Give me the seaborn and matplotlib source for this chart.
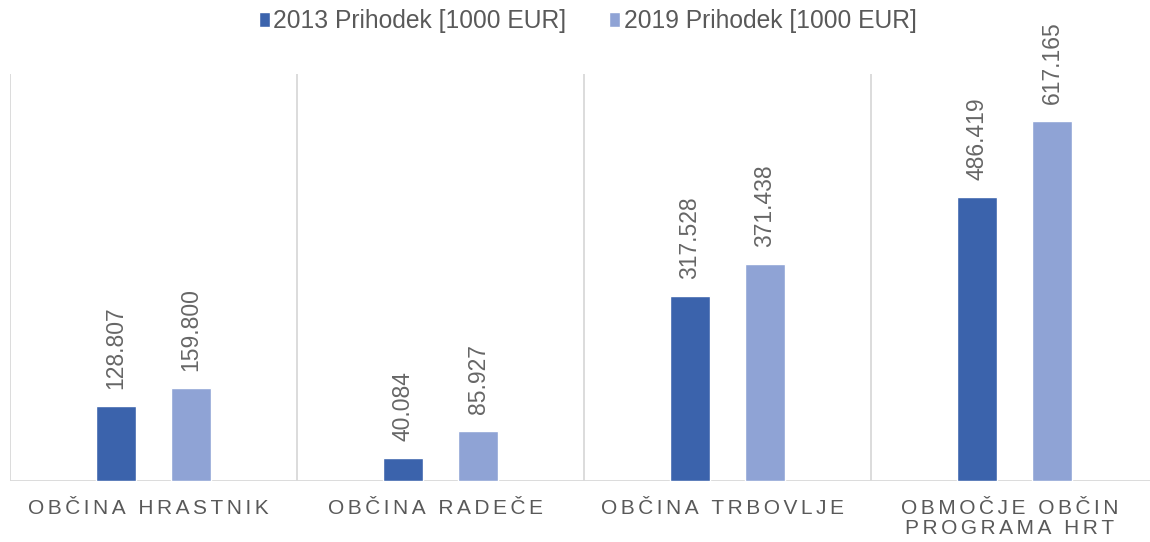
import pandas as pd
import matplotlib
matplotlib.use("Agg")
import matplotlib.pyplot as plt
import matplotlib.transforms as mtransforms
import seaborn as sns

categories = ["Občina Hrastnik", "Občina Radeče", "Občina Trbovlje", "Območje občin\nprograma HRT"]
series = ["2013 Prihodek [1000 EUR]", "2019 Prihodek [1000 EUR]"]
values_2013 = [128.807, 40.084, 317.528, 486.419]
values_2019 = [159.800, 85.927, 371.438, 617.165]
label_2013 = ["128.807", "40.084", "317.528", "486.419"]
label_2019 = ["159.800", "85.927", "371.438", "617.165"]

colors = ["#3b63ac", "#8fa3d5"]
text_gray = "#595959"
line_gray = "#d9d9d9"

df = pd.DataFrame({
    "kat": categories * 2,
    "serija": [series[0]] * 4 + [series[1]] * 4,
    "vrednost": values_2013 + values_2019,
})

sns.set_style("white")
plt.rcParams["font.family"] = ["Liberation Sans", "DejaVu Sans"]

fig = plt.figure(figsize=(11.5, 5.42), dpi=100)
ax = fig.add_axes([10 / 1150, 61 / 542, 1148 / 1150, 407 / 542])

sns.barplot(data=df, x="kat", y="vrednost", hue="serija", palette=colors,
            width=0.523, gap=0.479, saturation=1, ax=ax, legend=True)

for cont, labs in zip(ax.containers, [label_2013, label_2019]):
    ax.bar_label(cont, labels=labs, rotation=90, padding=12,
                 fontsize=16.5, color="#666666")

ax.set_ylim(0, 697)
ax.set_xlim(-0.5, 3.5)
for s in ax.spines.values():
    s.set_visible(False)
for xv in [-0.5, 0.5, 1.5, 2.5, 3.5]:
    ax.axvline(xv, color=line_gray, lw=1.3, zorder=0)
ax.axhline(0, color=line_gray, lw=1.3, zorder=0)


def spaced(txt):
    # razmik med črkami, kot v Excelu
    sep = "\u200a\u200a"
    return "\n".join(sep.join(list(line.upper())) for line in txt.split("\n"))


ax.set_xticks(range(len(categories)))
ax.set_xticklabels([spaced(c) for c in categories], fontsize=15,
                   color=text_gray, linespacing=1.08, va="top")
ax.tick_params(axis="x", length=0, pad=13)
# Excel centrira z razmikom za zadnjo črko -> malo v levo
shift = mtransforms.ScaledTranslation(-5 / 100, 0, fig.dpi_scale_trans)
for lbl in ax.get_xticklabels():
    lbl.set_transform(lbl.get_transform() + shift)
ax.set_yticks([])
ax.set_xlabel("")
ax.set_ylabel("")

handles, labels = ax.get_legend_handles_labels()
ax.get_legend().remove()
fig.legend(handles, labels, loc="center", bbox_to_anchor=(0.511, 1 - 21 / 542),
           ncol=2, frameon=False, fontsize=17.7, labelcolor=text_gray,
           handlelength=0.45, handleheight=0.55, handletextpad=0.13,
           columnspacing=1.75)

fig.savefig("out.png", dpi=100)
